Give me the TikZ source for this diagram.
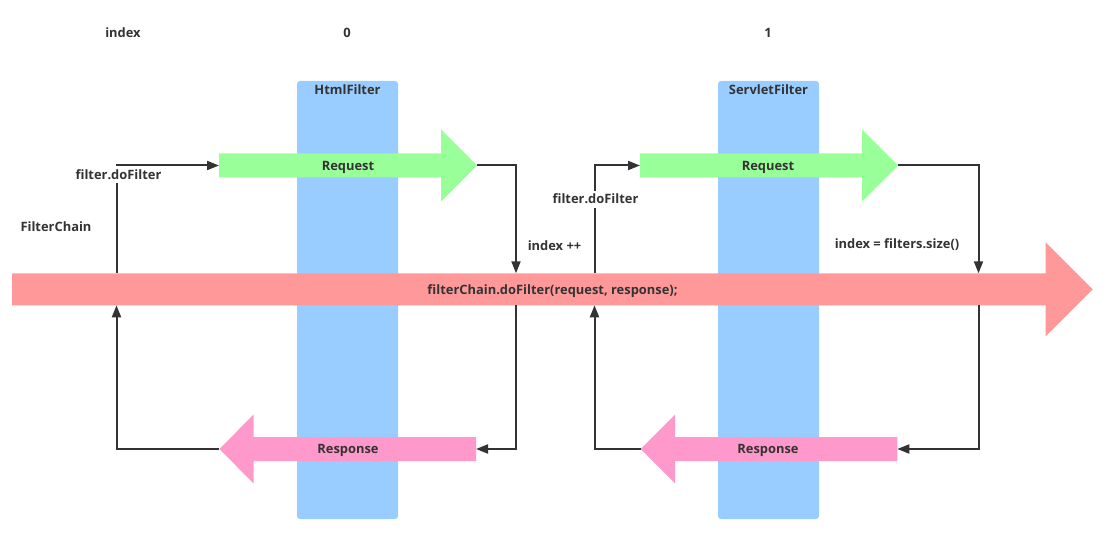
\documentclass[tikz,border=0pt]{standalone}
\usepackage{fontspec}
\setmainfont{Open Sans}
\usetikzlibrary{arrows.meta}
\definecolor{colblue}{HTML}{99CCFF}
\definecolor{colgreen}{HTML}{99FF99}
\definecolor{colred}{HTML}{FF9999}
\definecolor{colpink}{HTML}{FF99CC}
\definecolor{textgray}{HTML}{333333}
\definecolor{linegray}{HTML}{333333}
\begin{document}
\begin{tikzpicture}[x=1pt,y=-1pt,
  txt/.style={font=\fontsize{12.9}{14}\selectfont\bfseries, text=textgray, inner sep=0pt, text height=9.2pt, text depth=0pt},
  lbl/.style={txt, fill=white, inner xsep=1pt, minimum height=17pt},
  conn/.style={draw=linegray, line width=2pt, -{Triangle[length=12pt,width=9pt]}},
  column/.style={fill=colblue, rounded corners=3pt}]
\useasboundingbox (0,0) rectangle (1116,540);
% columns
\fill[column] (297,81) rectangle (398,519);
\fill[column] (718,81) rectangle (819,519);
% request arrows
\fill[colgreen] (219,153.5) -- (441,153.5) -- (441,129.5) -- (477,165.5) -- (441,201.5) -- (441,177.5) -- (219,177.5) -- cycle;
\fill[colgreen] (640,153.5) -- (862,153.5) -- (862,129.5) -- (898,165.5) -- (862,201.5) -- (862,177.5) -- (640,177.5) -- cycle;
% filter chain arrow
\fill[colred] (12,273.3) -- (1045.7,273.3) -- (1045.7,242.3) -- (1092.7,289.3) -- (1045.7,336.3) -- (1045.7,305.3) -- (12,305.3) -- cycle;
% response arrows
\fill[colpink] (476,437) -- (253.7,437) -- (253.7,414.5) -- (219.3,449) -- (253.7,483.5) -- (253.7,461) -- (476,461) -- cycle;
\fill[colpink] (897.3,437) -- (675,437) -- (675,414.5) -- (640.7,449) -- (675,483.5) -- (675,461) -- (897.3,461) -- cycle;
% named end points
\coordinate (req1tail) at (219,165.5);
\coordinate (req1tip) at (477,165.5);
\coordinate (req2tail) at (640,165.5);
\coordinate (req2tip) at (898,165.5);
\coordinate (resp1tail) at (476,449);
\coordinate (resp1tip) at (219.3,449);
\coordinate (resp2tail) at (897.3,449);
\coordinate (resp2tip) at (640.7,449);
\coordinate (chainTopA) at (116.5,273.3);
\coordinate (chainBotA) at (116.5,305.3);
\coordinate (chainTopB) at (516,273.3);
\coordinate (chainBotB) at (516,305.3);
\coordinate (chainTopC) at (594.5,273.3);
\coordinate (chainBotC) at (594.5,305.3);
\coordinate (chainTopD) at (978.5,273.3);
\coordinate (chainBotD) at (978.5,305.3);
% connectors
\draw[conn] (chainTopA) |- (req1tail);
\draw[conn] (req1tip) -| (chainTopB);
\draw[conn] (chainBotB) |- (resp1tail);
\draw[conn] (resp1tip) -| (chainBotA);
\draw[conn] (chainTopC) |- (req2tail);
\draw[conn] (req2tip) -| (chainTopD);
\draw[conn] (chainBotD) |- (resp2tail);
\draw[conn] (resp2tip) -| (chainBotC);
% texts
\node[txt] (idx) at (123,33.3) {index};
\node[txt] (idx0) at (347,33.3) {0};
\node[txt] (idx1) at (768,33.3) {1};
\node[txt] (html) at (347.5,90) {HtmlFilter};
\node[txt] (servlet) at (768.5,90) {ServletFilter};
\node[txt] (reqtext1) at (348,166) {Request};
\node[txt] (reqtext2) at (768,166) {Request};
\node[txt] (resptext1) at (348,449) {Response};
\node[txt] (resptext2) at (768,449) {Response};
\node[txt] (chaintext) at (552.5,290) {filterChain.doFilter(request, response);};
\node[txt] (fchain) at (56,226.5) {FilterChain};
\node[lbl] (dofilter1) at (118.5,175) {filter.doFilter};
\node[lbl] (dofilter2) at (595.5,199.3) {filter.doFilter};
\node[txt] (incr) at (554.5,245.7) {index ++};
\node[txt] (sizeidx) at (897,244.3) {index = filters.size()};
\end{tikzpicture}
\end{document}
